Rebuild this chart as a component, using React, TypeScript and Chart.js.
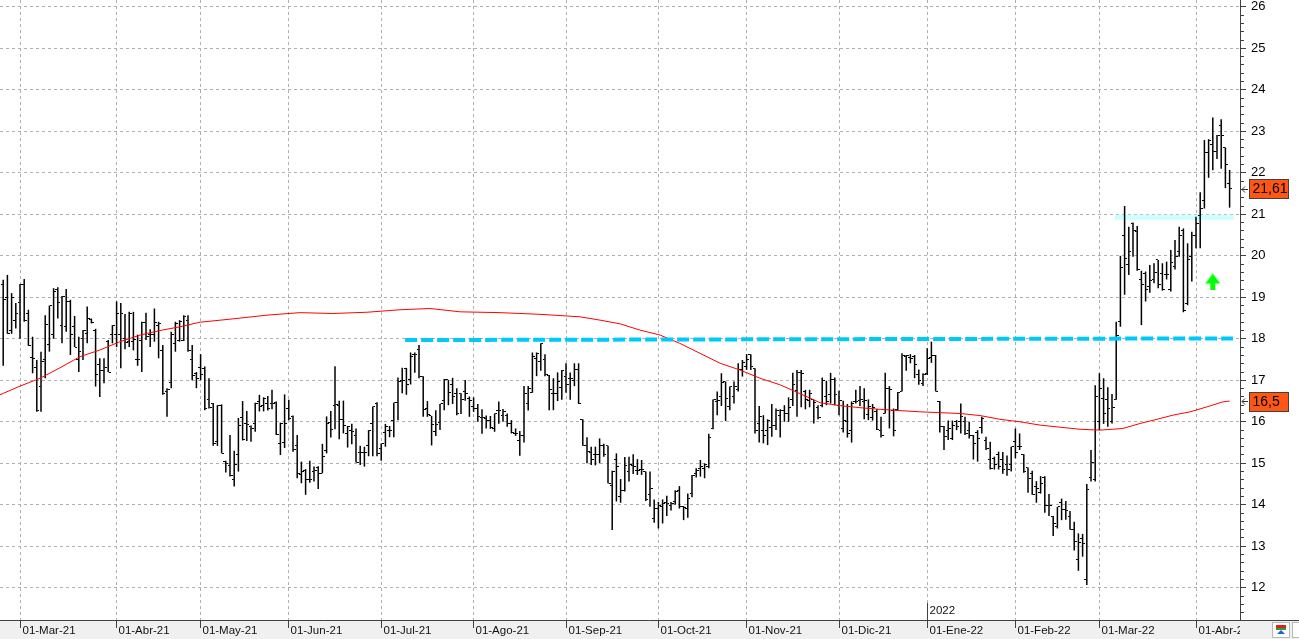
import React, { useEffect, useRef } from "react";
import { Chart, registerables } from "chart.js";

Chart.register(...registerables);

// ---- data -------------------------------------------------------------
// bar index 0 = 01-Mar-21 (one index per trading session)
const FIRST_BAR = -4;

const OPEN = [
  19.3, 19.0, 18.2, 18.45, 18.87, 19.3, 18.6, 17.55, 17.3, 16.85,
  17.5, 17.87, 18.1, 19.19, 18.33, 18.3, 18.9, 18.3, 17.5, 18.0,
  18.13, 18.46, 18.2, 17.37, 17.23, 17.93, 18.1, 18.1, 18.1, 18.0,
  17.93, 17.93, 17.5, 17.95, 18.4, 18.1, 18.1, 18.33, 17.73, 16.73,
  16.94, 17.89, 17.97, 17.97, 18.45, 17.5, 17.17, 17.31, 17.29, 16.53,
  16.44, 15.52, 16.4, 15.04, 14.94, 14.61, 15.22, 16.1, 15.95, 15.88,
  15.96, 16.5, 16.4, 16.45, 16.45, 16.47, 15.48, 15.5, 16.32, 16.12,
  15.44, 14.74, 14.82, 14.6, 14.8, 14.89, 14.76, 15.32, 15.99, 16.39,
  16.4, 16.06, 15.71, 15.79, 15.66, 15.26, 15.26, 15.44, 15.96, 16.45,
  15.36, 15.74, 15.8, 16.02, 16.46, 17.0, 17.29, 17.02, 17.63, 17.75,
  17.1, 16.32, 16.14, 15.76, 15.98, 16.51, 17.01, 16.9, 16.67, 16.67,
  16.73, 16.57, 16.36, 16.32, 16.11, 16.08, 16.04, 15.84, 16.27, 16.16,
  16.16, 15.96, 15.72, 15.56, 15.66, 16.43, 16.7, 17.53, 17.45, 17.49,
  17.11, 16.67, 16.67, 16.83, 17.1, 17.04, 17.0, 17.25, 16.06, 15.42,
  15.25, 15.2, 15.21, 15.44, 15.42, 14.46, 15.1, 14.2, 14.34, 14.8,
  14.94, 14.82, 14.84, 14.8, 14.24, 13.67, 13.91, 13.97, 14.05, 13.99,
  14.07, 14.35, 13.95, 13.91, 14.28, 14.76, 14.88, 14.87, 14.92, 15.84,
  16.49, 16.61, 16.97, 16.38, 16.61, 16.77, 17.25, 17.33, 17.61, 17.29,
  15.96, 15.8, 15.8, 15.87, 15.92, 16.14, 16.28, 16.19, 16.53, 16.75,
  17.19, 16.73, 16.51, 16.53, 16.35, 16.4, 16.61, 16.65, 17.01, 16.4,
  15.84, 16.01, 15.8, 16.48, 16.51, 16.48, 16.18, 16.11, 16.24, 15.8,
  16.2, 16.81, 16.27, 16.29, 16.73, 17.57, 17.55, 17.57, 17.13, 16.93,
  17.17, 17.55, 17.59, 16.5, 15.88, 15.8, 15.6, 16.0, 16.0, 16.0,
  15.78, 15.66, 15.74, 15.86, 15.56, 15.08, 15.12, 15.2, 15.08, 14.96,
  14.96, 15.52, 15.4, 15.22, 14.9, 14.76, 14.45, 14.29, 14.66, 13.99,
  13.73, 13.47, 14.05, 13.89, 13.73, 13.4, 12.67, 13.19, 12.2, 14.66,
  14.6, 16.0, 16.57, 16.54, 16.0, 16.53, 18.41, 20.5, 19.8, 20.78,
  20.58, 19.43, 19.58, 19.26, 19.42, 19.9, 19.58, 19.54, 19.2, 19.75,
  20.1, 20.62, 18.84, 19.98, 20.5, 20.96, 21.34, 22.49, 22.69, 22.51,
  23.13, 22.6, 21.75,
];

const HIGH = [
  19.42, 19.54, 19.1, 18.86, 19.32, 19.44, 18.7, 18.05, 17.49, 17.69,
  18.57, 18.8, 19.22, 19.24, 19.03, 19.2, 18.94, 18.55, 18.05, 18.21,
  18.78, 18.49, 18.24, 17.53, 17.53, 17.97, 18.33, 18.9, 18.86, 18.6,
  18.65, 18.65, 18.1, 18.41, 18.63, 18.23, 18.73, 18.41, 17.85, 16.81,
  18.17, 18.41, 18.45, 18.57, 18.57, 17.85, 17.2, 17.63, 17.33, 17.05,
  16.45, 16.4, 16.42, 15.06, 15.68, 15.3, 16.09, 16.5, 16.26, 15.91,
  16.46, 16.65, 16.59, 16.62, 16.77, 16.49, 15.98, 16.66, 16.53, 16.15,
  15.68, 15.04, 14.86, 15.06, 14.92, 14.93, 15.47, 16.13, 16.26, 17.34,
  16.51, 16.51, 15.9, 15.95, 15.84, 15.42, 15.4, 15.8, 16.37, 16.47,
  15.48, 15.95, 15.9, 16.46, 17.07, 17.3, 17.3, 17.67, 17.67, 17.85,
  17.1, 16.5, 16.14, 16.28, 16.43, 17.03, 17.01, 17.06, 16.81, 16.69,
  17.01, 16.61, 16.59, 16.43, 16.3, 16.15, 16.14, 16.2, 16.49, 16.31,
  16.2, 16.04, 15.84, 15.78, 16.86, 16.86, 17.67, 17.67, 17.89, 17.63,
  17.13, 17.05, 17.19, 17.25, 17.41, 17.19, 17.41, 17.41, 16.06, 15.63,
  15.4, 15.4, 15.6, 15.47, 15.42, 14.82, 15.24, 14.62, 15.15, 15.16,
  15.22, 15.1, 15.08, 14.8, 14.8, 14.13, 14.07, 14.13, 14.22, 14.07,
  14.35, 14.45, 13.97, 14.27, 14.72, 14.88, 15.08, 15.0, 15.71, 16.54,
  16.73, 17.17, 16.97, 16.85, 16.97, 17.41, 17.49, 17.63, 17.63, 17.29,
  16.38, 16.16, 16.06, 16.43, 16.32, 16.3, 16.4, 16.59, 17.18, 17.25,
  17.25, 16.77, 16.77, 16.53, 16.4, 17.07, 16.99, 17.18, 17.07, 16.75,
  16.51, 16.43, 16.49, 16.77, 16.86, 16.81, 16.54, 16.43, 16.3, 16.12,
  17.18, 16.86, 16.32, 16.72, 17.65, 17.61, 17.63, 17.61, 17.26, 17.17,
  17.77, 17.93, 17.61, 16.5, 15.9, 16.03, 16.03, 16.04, 16.44, 16.12,
  16.0, 15.68, 15.8, 16.12, 15.64, 15.52, 15.16, 15.28, 15.27, 15.19,
  15.4, 15.84, 15.72, 15.22, 14.9, 14.82, 14.57, 14.69, 14.69, 14.26,
  13.73, 13.95, 14.15, 14.09, 13.85, 13.59, 13.31, 13.3, 14.5, 15.32,
  16.88, 17.17, 17.05, 16.83, 16.67, 18.41, 20.0, 21.2, 20.7, 20.8,
  20.72, 19.64, 19.62, 19.78, 19.82, 19.9, 19.82, 19.86, 20.14, 20.38,
  20.7, 20.66, 20.3, 20.58, 20.94, 21.53, 22.79, 22.81, 23.33, 22.91,
  23.29, 22.61, 22.07,
];

const LOW = [
  17.35, 18.12, 18.12, 18.25, 18.0, 18.41, 17.83, 17.17, 16.24, 16.24,
  17.05, 17.69, 18.0, 18.49, 17.89, 18.17, 17.61, 17.8, 17.2, 17.49,
  17.89, 18.37, 16.85, 16.6, 16.93, 17.2, 17.89, 17.8, 17.29, 17.75,
  17.8, 17.72, 17.35, 17.2, 17.97, 17.8, 17.93, 17.53, 16.65, 16.12,
  16.81, 17.69, 17.93, 17.95, 17.69, 17.0, 16.81, 17.0, 16.28, 16.32,
  15.42, 15.42, 15.24, 14.78, 14.68, 14.44, 14.8, 15.55, 15.54, 15.52,
  15.76, 16.25, 16.25, 16.27, 16.3, 15.68, 15.2, 15.37, 16.04, 15.28,
  14.64, 14.52, 14.24, 14.53, 14.56, 14.38, 14.76, 15.24, 15.62, 15.82,
  15.58, 15.72, 15.38, 15.46, 15.02, 14.96, 14.92, 15.17, 15.17, 15.17,
  15.06, 15.4, 15.63, 15.63, 16.04, 16.69, 16.65, 16.9, 17.18, 17.05,
  16.12, 16.12, 15.43, 15.66, 15.8, 16.28, 16.4, 16.43, 16.16, 16.19,
  16.51, 16.12, 16.24, 16.0, 15.71, 15.84, 15.83, 15.76, 15.95, 16.0,
  15.88, 15.72, 15.66, 15.18, 15.5, 16.27, 16.7, 17.1, 17.23, 17.1,
  16.28, 16.28, 16.5, 16.53, 16.7, 16.53, 16.86, 16.43, 15.42, 15.0,
  14.96, 14.95, 15.0, 15.16, 14.52, 13.39, 14.08, 14.05, 14.32, 14.56,
  14.74, 14.72, 14.72, 14.09, 13.95, 13.57, 13.43, 13.55, 13.73, 13.86,
  14.0, 13.91, 13.63, 13.69, 14.18, 14.66, 14.68, 14.64, 14.88, 15.82,
  16.16, 16.38, 16.02, 16.28, 16.44, 16.73, 17.09, 17.25, 17.25, 15.72,
  15.5, 15.48, 15.44, 15.64, 15.8, 15.62, 16.0, 16.0, 16.38, 16.12,
  16.35, 16.3, 16.35, 15.96, 16.06, 16.35, 16.4, 16.44, 16.4, 16.16,
  15.74, 15.62, 15.5, 16.44, 16.38, 16.06, 16.04, 16.03, 15.8, 15.62,
  16.2, 15.84, 15.65, 16.28, 16.73, 17.23, 17.41, 17.05, 16.89, 16.86,
  17.13, 17.42, 16.73, 15.74, 15.32, 15.56, 15.56, 15.8, 15.72, 15.68,
  15.6, 15.09, 15.04, 15.72, 15.32, 14.85, 14.85, 14.85, 14.75, 14.7,
  14.8, 15.12, 15.32, 14.77, 14.29, 14.24, 14.05, 14.27, 13.81, 13.73,
  13.25, 13.43, 13.63, 13.64, 13.4, 12.9, 12.41, 12.75, 12.07, 14.56,
  14.56, 15.8, 15.95, 15.88, 15.96, 16.53, 18.29, 19.06, 19.54, 19.98,
  19.64, 18.33, 18.9, 19.11, 19.34, 19.22, 19.16, 19.43, 19.14, 19.67,
  19.98, 18.64, 18.81, 19.38, 20.18, 20.18, 21.14, 21.88, 22.06, 22.33,
  22.1, 21.63, 21.16,
];

const CLOSE = [
  18.94, 18.12, 19.0, 18.6, 19.32, 18.45, 17.83, 17.53, 16.28, 17.45,
  18.35, 18.8, 19.14, 18.87, 19.03, 18.9, 18.1, 17.8, 17.7, 18.2,
  18.5, 18.4, 17.14, 17.23, 17.3, 17.2, 18.33, 18.61, 18.6, 17.9,
  18.6, 17.98, 17.5, 18.4, 18.05, 18.1, 18.4, 18.37, 16.67, 16.77,
  18.1, 18.37, 18.41, 18.53, 17.73, 17.12, 17.05, 17.14, 16.33, 16.35,
  15.48, 16.39, 15.24, 15.0, 14.7, 14.98, 15.9, 15.58, 15.94, 15.84,
  16.45, 16.37, 16.57, 16.33, 16.45, 15.7, 15.96, 15.95, 16.08, 15.34,
  14.76, 14.8, 14.6, 14.6, 14.82, 14.76, 15.16, 15.97, 15.82, 16.42,
  16.05, 15.92, 15.88, 15.76, 15.02, 15.26, 15.26, 15.8, 16.37, 15.24,
  15.48, 15.88, 15.8, 16.46, 16.97, 17.0, 16.9, 17.57, 17.63, 17.1,
  16.3, 16.18, 15.94, 15.94, 16.43, 17.01, 16.7, 16.62, 16.19, 16.53,
  16.69, 16.51, 16.32, 16.12, 16.11, 16.02, 15.86, 16.2, 16.28, 16.26,
  15.96, 15.75, 15.72, 15.68, 16.67, 16.81, 17.57, 17.65, 17.88, 17.13,
  16.77, 16.67, 16.97, 17.23, 16.89, 17.05, 17.25, 16.43, 15.42, 15.28,
  15.08, 15.21, 15.44, 15.2, 14.52, 14.8, 14.92, 14.34, 14.94, 14.96,
  14.93, 14.82, 14.84, 14.12, 14.39, 13.91, 13.99, 14.03, 14.03, 14.03,
  14.33, 13.95, 13.93, 14.15, 14.7, 14.82, 14.92, 14.98, 15.63, 16.53,
  16.51, 16.94, 16.57, 16.85, 16.85, 17.25, 17.43, 17.51, 17.33, 15.79,
  16.12, 15.68, 16.04, 15.92, 16.28, 16.28, 16.19, 16.35, 16.89, 17.18,
  17.17, 16.53, 16.69, 16.46, 16.11, 16.99, 16.48, 17.01, 16.65, 16.51,
  16.03, 15.71, 16.45, 16.5, 16.53, 16.51, 16.38, 16.35, 15.82, 15.68,
  16.81, 16.77, 15.79, 16.7, 17.59, 17.59, 17.53, 17.37, 16.99, 17.15,
  17.53, 17.59, 16.74, 15.88, 15.64, 15.84, 15.9, 15.88, 16.12, 15.72,
  15.66, 15.48, 15.6, 16.08, 15.36, 14.88, 14.96, 14.92, 14.86, 14.85,
  15.4, 15.26, 15.41, 14.8, 14.64, 14.24, 14.4, 14.52, 13.99, 13.99,
  13.55, 13.95, 13.89, 13.87, 13.4, 13.12, 13.09, 13.07, 14.36, 15.02,
  16.62, 16.81, 16.19, 16.33, 16.35, 18.09, 19.72, 19.94, 20.1, 20.6,
  19.66, 19.32, 19.2, 19.4, 19.59, 19.3, 19.2, 19.56, 19.84, 19.98,
  20.48, 18.68, 19.92, 20.5, 20.78, 21.14, 22.49, 22.79, 22.51, 22.91,
  22.91, 22.19, 21.61,
];

// red moving average (bar index, value)
const MA_X = [
  -4.8, 0, 4.8, 9.5, 14.3, 19, 23.8, 28.6, 33.3, 38.1, 42.9, 50.7, 58.8,
  66.7, 74.5, 82.6, 90.5, 97.6, 104.8, 114.3, 123.8, 133.3, 138.1, 142.9,
  147.6, 152.4, 157.1, 161.9, 166.7, 171.4, 176.2, 181, 185.7, 190.5, 195.2,
  200, 204.8, 209.5, 214.3, 223.8, 228.6, 233.3, 238.1, 242.9, 247.6, 252.4,
  257.1, 260.2, 262.6, 266.7, 270.7, 274.5, 278.6, 282.6, 286.4, 288,
];
const MA_Y = [
  16.65, 16.86, 17.05, 17.3, 17.57, 17.73, 17.93, 18.09, 18.2, 18.29, 18.4,
  18.48, 18.57, 18.63, 18.61, 18.64, 18.7, 18.73, 18.65, 18.63, 18.59, 18.53,
  18.45, 18.36, 18.21, 18.09, 17.89, 17.65, 17.41, 17.25, 17.05, 16.89,
  16.68, 16.46, 16.39, 16.34, 16.3, 16.27, 16.24, 16.2, 16.15, 16.06, 16.0,
  15.92, 15.87, 15.82, 15.8, 15.82, 15.84, 15.96, 16.06, 16.16, 16.24,
  16.36, 16.48, 16.5,
];

// horizontal resistance (dashed cyan) and breakout level (light cyan)
const RESIST_X = [91.7, 288.8];
const RESIST_Y = [17.97, 18.01];
const BREAK_X = [260.7, 289];
const BREAK_Y = [20.93, 20.93];

// buy signal arrow
const SIGNAL_X = [284];
const SIGNAL_Y = [19.37];

// axes
const MONTH_LABELS = [
  "01-Mar-21", "01-Abr-21", "01-May-21", "01-Jun-21", "01-Jul-21",
  "01-Ago-21", "01-Sep-21", "01-Oct-21", "01-Nov-21", "01-Dic-21",
  "01-Ene-22", "01-Feb-22", "01-Mar-22", "01-Abr-22",
];
const MONTH_INDEX = [0, 23, 43, 64, 86, 108, 130, 152, 173, 195, 216, 237, 257, 280];
const YEAR_LABEL = "2022";
const YEAR_INDEX = 216;
const Y_TICKS = [12, 13, 14, 15, 16, 17, 18, 19, 20, 21, 22, 23, 24, 25, 26];
const X_MIN = -4.762;
const X_MAX = 290.476;
const Y_MIN = 11.224;
const Y_MAX = 26.164;

const fmt = (v: number) => String(v).replace(".", ",");

export default function App() {
  const ref = useRef<HTMLCanvasElement | null>(null);

  useEffect(() => {
    const canvas = ref.current;
    if (!canvas) return;

    const mk = (w: number, h: number, draw: (g: CanvasRenderingContext2D) => void) => {
      const c = document.createElement("canvas");
      c.width = w;
      c.height = h;
      const g = c.getContext("2d")!;
      draw(g);
      return c;
    };
    const openTick = mk(5, 1, (g) => {
      g.fillStyle = "#000";
      g.fillRect(0, 0, 2, 1);
    });
    const closeTick = mk(5, 1, (g) => {
      g.fillStyle = "#000";
      g.fillRect(3, 0, 2, 1);
    });
    const arrow = mk(15, 17, (g) => {
      g.fillStyle = "#00ff00";
      g.beginPath();
      g.moveTo(7.5, 0);
      g.lineTo(15, 10);
      g.lineTo(0, 10);
      g.closePath();
      g.fill();
      g.fillRect(5, 10, 5, 7);
    });

    const idx = OPEN.map((_, k) => FIRST_BAR + k);

    const framePlugin = {
      id: "frame",
      afterDraw(chart: any) {
        const { ctx, chartArea: a, scales } = chart;
        const x = scales.x;
        const y = scales.y;
        const W = chart.width;
        const H = chart.height;
        ctx.save();
        // bottom band
        ctx.fillStyle = "#f0f0f0";
        ctx.fillRect(0, a.bottom, W, H - a.bottom);
        ctx.strokeStyle = "#404040";
        ctx.lineWidth = 1;
        ctx.beginPath();
        ctx.moveTo(0, a.bottom + 0.5);
        ctx.lineTo(W, a.bottom + 0.5);
        ctx.stroke();
        // y axis line
        ctx.beginPath();
        ctx.moveTo(a.right + 0.5, 0);
        ctx.lineTo(a.right + 0.5, a.bottom);
        ctx.stroke();
        // y minor / major tick marks
        ctx.beginPath();
        for (let k = Math.ceil(y.min * 5); k <= Math.floor(y.max * 5); k++) {
          const py = Math.round(y.getPixelForValue(k / 5) - 0.5) + 0.5;
          const len = k % 5 === 0 ? 6 : 4;
          ctx.moveTo(a.right, py);
          ctx.lineTo(a.right + len, py);
        }
        ctx.stroke();

        // month ticks + labels
        ctx.save();
        ctx.beginPath();
        ctx.rect(0, a.bottom, a.right, H - a.bottom);
        ctx.clip();
        ctx.font = "11.5px 'Liberation Sans', Arial, sans-serif";
        ctx.fillStyle = "#111";
        ctx.textBaseline = "middle";
        ctx.textAlign = "left";
        ctx.beginPath();
        MONTH_INDEX.forEach((m) => {
          const px = Math.round(x.getPixelForValue(m) - 0.5) + 0.5;
          ctx.moveTo(px, a.bottom);
          ctx.lineTo(px, a.bottom + 8);
        });
        ctx.stroke();
        MONTH_INDEX.forEach((m, k) => {
          const px = Math.round(x.getPixelForValue(m) - 0.5) + 0.5;
          ctx.fillText(MONTH_LABELS[k], px + 2, a.bottom + 10.5);
        });
        ctx.restore();

        // year marker
        {
          const px = Math.round(x.getPixelForValue(YEAR_INDEX) - 0.5) + 0.5;
          ctx.beginPath();
          ctx.moveTo(px, a.bottom - 17);
          ctx.lineTo(px, a.bottom);
          ctx.stroke();
          ctx.font = "11.5px 'Liberation Sans', Arial, sans-serif";
          ctx.fillStyle = "#111";
          ctx.textBaseline = "middle";
          ctx.textAlign = "left";
          ctx.fillText(YEAR_LABEL, px + 2, a.bottom - 9);
        }

        // last value badges
        const badge = (val: number) => {
          const py = y.getPixelForValue(val);
          const bx = a.right + 9.5;
          const bw = 39;
          const bh = 19;
          const by = Math.round(py - bh / 2) + 0.5;
          ctx.fillStyle = "#ff5614";
          ctx.fillRect(bx, by, bw, bh);
          ctx.strokeStyle = "#404040";
          ctx.strokeRect(bx, by, bw, bh);
          ctx.fillStyle = "#000";
          ctx.font = "14px 'Liberation Sans', Arial, sans-serif";
          ctx.textBaseline = "middle";
          ctx.textAlign = "left";
          ctx.fillText(fmt(val), bx + 3, by + bh / 2 + 0.5);
          // pointer arrow
          const ay = Math.round(py) + 0.5;
          ctx.strokeStyle = "#333";
          ctx.beginPath();
          ctx.moveTo(a.right + 2, ay);
          ctx.lineTo(a.right + 8, ay);
          ctx.moveTo(a.right + 2, ay);
          ctx.lineTo(a.right + 5, ay - 3);
          ctx.moveTo(a.right + 2, ay);
          ctx.lineTo(a.right + 5, ay + 3);
          ctx.stroke();
        };
        badge(CLOSE[CLOSE.length - 1]);
        badge(MA_Y[MA_Y.length - 1]);

        // small toolbar icon in the corner
        const ix = W - 27;
        const iy = a.bottom + 2;
        ctx.fillStyle = "#fff";
        ctx.fillRect(ix + 0.5, iy + 0.5, 17, 15);
        ctx.strokeStyle = "#b8b8b8";
        ctx.strokeRect(ix + 0.5, iy + 0.5, 17, 15);
        ctx.fillStyle = "#e02020";
        ctx.fillRect(ix + 4, iy + 3, 10, 3);
        ctx.fillStyle = "#30a030";
        ctx.fillRect(ix + 4, iy + 6, 10, 2);
        ctx.fillStyle = "#2060e0";
        ctx.beginPath();
        ctx.moveTo(ix + 9, iy + 8);
        ctx.lineTo(ix + 13, iy + 12);
        ctx.lineTo(ix + 5, iy + 12);
        ctx.closePath();
        ctx.fill();
        ctx.fillStyle = "#fff";
        ctx.fillRect(W - 6.5, iy + 0.5, 8, 15);
        ctx.strokeStyle = "#b8b8b8";
        ctx.strokeRect(W - 6.5, iy + 0.5, 8, 15);
        ctx.restore();
      },
    };

    const chart = new Chart(canvas, {
      type: "line",
      data: {
        datasets: [
          {
            type: "line",
            data: BREAK_X.map((v, k) => ({ x: v, y: BREAK_Y[k] })),
            borderColor: "#ccffff",
            borderWidth: 5,
            pointRadius: 0,
            order: 5,
          },
          {
            type: "bar",
            data: idx.map((v, k) => ({ x: v, y: [LOW[k], HIGH[k]] })),
            backgroundColor: "#000",
            borderWidth: 0,
            barThickness: 1.5,
            inflateAmount: 0,
            grouped: false,
            order: 4,
          },
          {
            type: "line",
            data: idx.map((v, k) => ({ x: v, y: OPEN[k] })),
            showLine: false,
            pointStyle: openTick,
            pointRadius: 2,
            order: 3,
          },
          {
            type: "line",
            data: idx.map((v, k) => ({ x: v, y: CLOSE[k] })),
            showLine: false,
            pointStyle: closeTick,
            pointRadius: 2,
            order: 3,
          },
          {
            type: "line",
            data: MA_X.map((v, k) => ({ x: v, y: MA_Y[k] })),
            borderColor: "#ff0000",
            borderWidth: 1,
            pointRadius: 0,
            tension: 0,
            order: 2,
          },
          {
            type: "line",
            data: RESIST_X.map((v, k) => ({ x: v, y: RESIST_Y[k] })),
            borderColor: "#00c8ff",
            borderWidth: 4,
            borderDash: [12, 4],
            borderCapStyle: "butt",
            pointRadius: 0,
            order: 1,
          },
          {
            type: "line",
            data: SIGNAL_X.map((v, k) => ({ x: v, y: SIGNAL_Y[k] })),
            showLine: false,
            pointStyle: arrow,
            pointRadius: 8,
            order: 0,
          },
        ],
      },
      options: {
        responsive: false,
        animation: false,
        devicePixelRatio: 1,
        events: [],
        layout: { padding: 0, autoPadding: false },
        plugins: {
          legend: { display: false },
          tooltip: { enabled: false },
        },
        scales: {
          x: {
            type: "linear",
            min: X_MIN,
            max: X_MAX,
            offset: false,
            grid: { offset: false, color: "#b0b0b0", drawTicks: false },
            border: { display: false, dash: [3, 3] },
            ticks: { display: false },
            afterBuildTicks: (s: any) => {
              s.ticks = MONTH_INDEX.map((v) => ({ value: v }));
            },
            afterFit: (s: any) => {
              s.height = 19;
              s.paddingLeft = 0;
              s.paddingRight = 0;
            },
          },
          y: {
            type: "linear",
            position: "right",
            min: Y_MIN,
            max: Y_MAX,
            grid: { color: "#b0b0b0", drawTicks: false },
            border: { display: false, dash: [3, 3] },
            ticks: {
              font: { family: "'Liberation Sans', Arial, sans-serif", size: 13 },
              color: "#000",
              padding: 11,
              callback: (v: any) => String(v),
            },
            afterBuildTicks: (s: any) => {
              s.ticks = Y_TICKS.map((v) => ({ value: v }));
            },
            afterFit: (s: any) => {
              s.width = 59;
              s.paddingTop = 0;
              s.paddingBottom = 0;
            },
          },
        },
      },
      plugins: [framePlugin],
    } as any);

    return () => chart.destroy();
  }, []);

  return (
    <div style={{ position: "fixed", left: 0, top: 0, width: 1299, height: 639, background: "#fff" }}>
      <canvas ref={ref} width={1299} height={639} style={{ display: "block" }} />
    </div>
  );
}
